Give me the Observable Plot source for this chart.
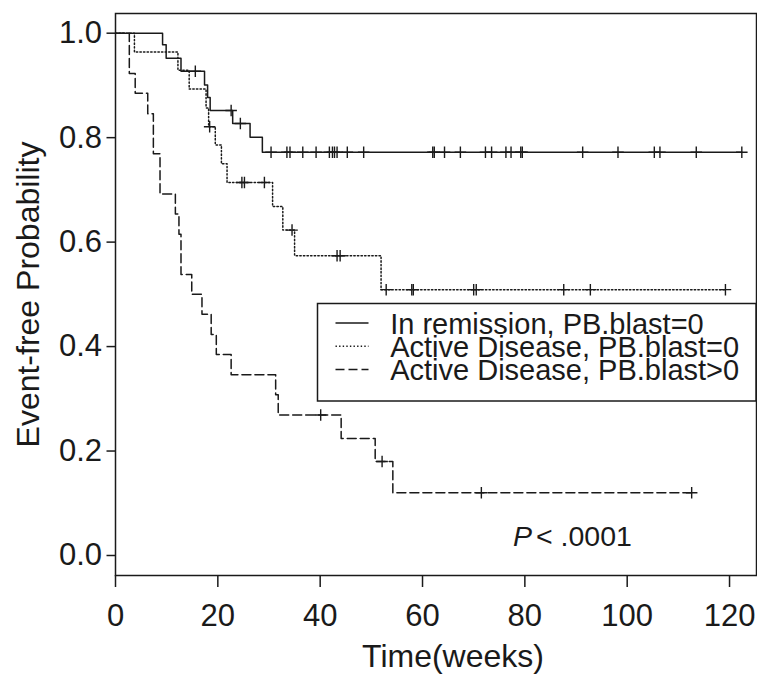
<!DOCTYPE html>
<html>
<head>
<meta charset="utf-8">
<script src="https://cdn.jsdelivr.net/npm/d3@7"></script>
<script src="https://cdn.jsdelivr.net/npm/@observablehq/plot@0.6"></script>
<style>
  html, body { margin: 0; padding: 0; background: #ffffff; }
  #chart { width: 757px; height: 677px; }
</style>
</head>
<body>
<div id="chart"></div>
<script>
// ---------- data ----------
const groups = ["In remission, PB.blast=0", "Active Disease, PB.blast=0", "Active Disease, PB.blast>0"];

// Kaplan-Meier step points (time in weeks, event-free probability)
const remTime = [0, 9.2, 9.9, 12.8, 17.4, 18.0, 18.5, 22.9, 26.3, 28.7, 122.4];
const remSurv = [1, 0.978, 0.952, 0.927, 0.901, 0.877, 0.852, 0.827, 0.801, 0.772, 0.772];
const remCensor = [15.6, 22.6, 24.4, 30.4, 33.5, 34.1, 36.6, 39.2, 41.8, 42.4, 42.8, 43.3, 45.3, 48.5,
  62.0, 62.3, 64.3, 67.4, 72.3, 73.5, 76.3, 77.3, 79.2, 79.5, 91.3, 98.2, 105.3, 106.4, 113.5, 122.4];

const actTime = [0, 3.7, 12.2, 14.4, 17.7, 18.2, 19.5, 20.7, 21.8, 30.7, 32.7, 35.0, 51.9, 119.2];
const actSurv = [1, 0.964, 0.929, 0.893, 0.857, 0.821, 0.786, 0.750, 0.714, 0.668, 0.623, 0.574, 0.509, 0.509];
const actCensor = [18.4, 24.7, 25.2, 29.1, 34.5, 43.3, 43.9, 52.9, 57.9, 58.2, 70.0, 70.5, 87.6, 92.8, 119.2];

const blastTime = [0, 2.7, 3.85, 6.3, 7.4, 8.7, 11.7, 12.4, 12.8, 14.9, 16.9, 18.7, 19.7, 22.6, 31.3, 31.8, 44.1, 50.75, 54.2, 112.6];
const blastSurv = [1, 0.923, 0.885, 0.846, 0.769, 0.692, 0.654, 0.615, 0.538, 0.500, 0.462, 0.423, 0.385, 0.346, 0.308, 0.269, 0.224, 0.180, 0.120, 0.120];
const blastCensor = [40.1, 52.1, 71.5, 112.6];

const xTicks = [0, 20, 40, 60, 80, 100, 120];
const yTicks = [0, 0.2, 0.4, 0.6, 0.8, 1.0];
const xTitle = "Time(weeks)";
const yTitle = "Event-free Probability";
const pItalic = "P";
const pRest = "< .0001";
const pAt = {x: 81.6, y: 0.036};
const legendTop = 0.482;

// ---------- styling ----------
const FONT = "'Liberation Sans', Arial, Helvetica, sans-serif";
const INK = "#1a1a1a";
const dashes = ["none", "1.4,2.2", "9,4"];

// ---------- build tables ----------
const series = [
  {time: remTime, surv: remSurv, cens: remCensor},
  {time: actTime, surv: actSurv, cens: actCensor},
  {time: blastTime, surv: blastSurv, cens: blastCensor}
];
function level(s, t) {
  let v = s.surv[0];
  for (let i = 0; i < s.time.length; i++) if (s.time[i] <= t) v = s.surv[i];
  return v;
}
const stepTables = series.map((s, gi) => s.time.map((t, i) => ({group: groups[gi], t, s: s.surv[i]})));
const censorTable = series.flatMap((s, gi) => s.cens.map(t => ({group: groups[gi], t, s: level(s, t)})));

function legendMark(index, scales, values, dims) {
  const right = dims.width - dims.marginRight;
  const top = Math.round(scales.y(legendTop)) + 0.5;
  const w = 438.5, h = 97.5, left = right - w;
  const g = d3.create("svg:g").attr("font-family", FONT).attr("font-size", 29).attr("fill", INK)
    .attr("text-anchor", "start");
  g.append("rect").attr("x", left).attr("y", top).attr("width", w).attr("height", h)
    .attr("fill", "white").attr("stroke", INK).attr("stroke-width", 1.5);
  groups.forEach((name, i) => {
    const cy = top + 19.5 + i * 23.2;
    g.append("line").attr("x1", left + 18).attr("x2", left + 51).attr("y1", cy).attr("y2", cy)
      .attr("fill", "none").attr("stroke", INK).attr("stroke-width", 1.5).attr("stroke-dasharray", dashes[i]);
    g.append("text").attr("x", left + 72.7).attr("y", cy + 10.6).attr("text-anchor", "start").text(name);
  });
  return g.node();
}

const chart = Plot.plot({
  width: 757,
  height: 677,
  marginLeft: 115,
  marginRight: 1,
  marginTop: 13,
  marginBottom: 102,
  style: {fontFamily: FONT, background: "#ffffff", color: INK},
  x: {domain: [0, 125.27], label: null},
  y: {domain: [-0.0383, 1.0377], label: null},
  marks: [
    Plot.frame({stroke: INK, strokeWidth: 1.5}),
    Plot.axisX(xTicks, {tickSize: 12, tickPadding: 16, fontSize: 31, stroke: INK, strokeWidth: 1.5, label: null}),
    Plot.axisY(yTicks, {tickSize: 8.5, tickPadding: 5, fontSize: 31, stroke: INK, strokeWidth: 1.5,
      tickFormat: d3.format(".1f"), label: null}),
    ...stepTables.map((tbl, i) => Plot.line(tbl, {
      x: "t", y: "s", curve: "step-after", stroke: INK, strokeWidth: 1.5, strokeDasharray: dashes[i]
    })),
    Plot.dot(censorTable, {x: "t", y: "s", symbol: "plus", r: 3.8, stroke: INK, strokeWidth: 1.4}),
    legendMark,
    Plot.text([pItalic], {x: () => pAt.x, y: () => pAt.y, text: d => d, textAnchor: "end", dx: -1,
      fontSize: 28.5, fontStyle: "italic", fill: INK}),
    Plot.text([pRest], {x: () => pAt.x, y: () => pAt.y, text: d => d, textAnchor: "start", dx: 3,
      fontSize: 28.5, fill: INK}),
    Plot.text([xTitle], {frameAnchor: "bottom", text: d => d, textAnchor: "middle", lineAnchor: "middle",
      dx: 17, dy: 81, fontSize: 32, fill: INK}),
    Plot.text([yTitle], {frameAnchor: "left", text: d => d, textAnchor: "middle", lineAnchor: "middle",
      rotate: -90, dx: -87, fontSize: 32, fill: INK})
  ]
});
document.getElementById("chart").appendChild(chart);
</script>
</body>
</html>
